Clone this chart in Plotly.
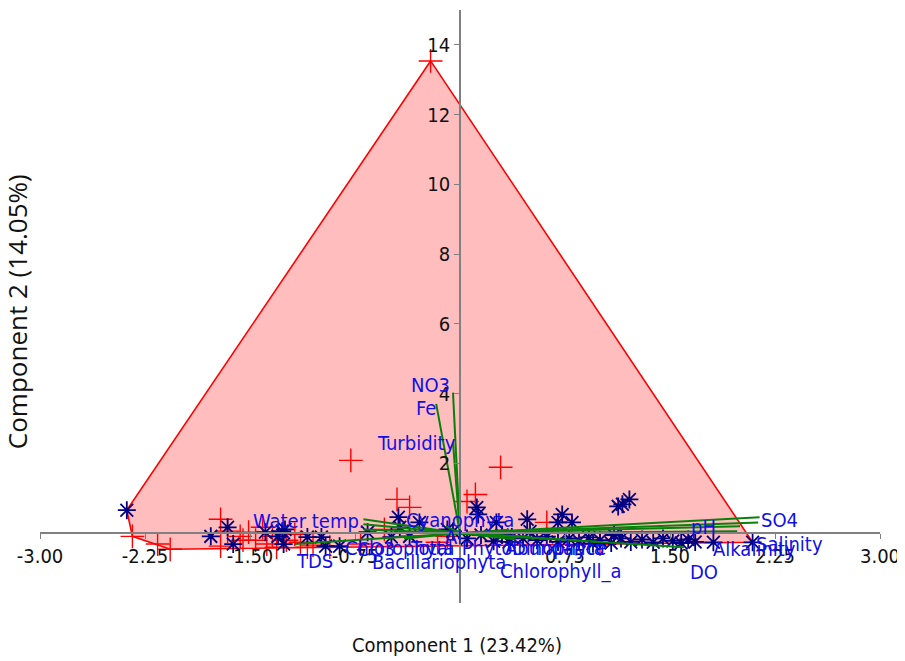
import plotly.graph_objects as go

# ---- data (component scores) ----
red_x = [-0.21, -0.78, 0.29, -0.45, -0.36, 0.05, 0.11, -2.34, -2.07, -2.16, -1.71, -1.71,
         -1.66, -1.57, -1.55, -1.51, -1.46, -1.38, -1.34, -1.31, -1.24, -1.14, -1.09, -1.05,
         -0.93, -0.71, -0.54, -0.09, -0.16, -1.18, -1.41, 0.62, 1.00]
red_y = [13.54, 2.09, 1.89, 0.97, 0.74, 0.91, 1.11, -0.09, -0.46, -0.31, 0.40, -0.37,
         0.06, -0.09, -0.20, 0.03, -0.20, -0.31, -0.09, -0.40, -0.20, -0.26, -0.40, -0.34,
         -0.40, -0.31, 0.11, -0.09, -0.26, -0.03, 0.17, 0.31, -0.31]

blue_x = [-2.38, -1.78, -1.66, -1.62, -1.39, -1.30, -1.27, -1.26, -1.25, -1.09, -0.99, -0.96,
          -0.86, -0.66, -0.44, -0.43, -0.29, -0.09, 0.12, 0.13, 0.24, 0.37, 0.48, 0.73,
          0.80, 0.70, 1.13, 1.16, 1.21, 1.81, 2.09, 0.26, -0.49, -0.36,
          0.45, 0.55, 0.62, 0.70, 0.78, 0.85, 0.92, 1.00, 1.08, 1.15, 1.22, 1.30,
          1.38, 1.45, 1.52, 1.58, 1.63, 1.68, 0.35, 0.30, 1.10, 0.95, 0.50, 0.05, -0.05, 0.15]
blue_y = [0.66, -0.09, 0.17, -0.31, 0.03, -0.09, 0.06, -0.31, 0.11, -0.11, -0.11, -0.37,
          -0.37, 0.03, 0.46, 0.17, 0.31, 0.11, 0.74, 0.54, -0.23, -0.11, 0.40, 0.54,
          0.31, 0.31, 0.77, 0.83, 0.97, -0.26, -0.26, 0.31, -0.11, -0.09,
          -0.15, -0.20, -0.10, -0.25, -0.15, -0.22, -0.12, -0.20, -0.28, -0.15, -0.25, -0.18,
          -0.26, -0.15, -0.22, -0.28, -0.18, -0.25, -0.25, -0.05, -0.05, -0.30, 0.05, -0.15, 0.05, -0.05]

# ---- variable loadings (biplot vectors) ----
var_names = ["NO3", "Fe", "Turbidity", "Water temp.", "TDS", "CO3", "Chlorophyta", "Cyanophyta",
             "Al", "Total_Phyto", "Bacillariophyta", "Abundance", "Dinophyta", "Chlorophyll_a",
             "DO", "pH", "Alkalinity", "Salinity", "SO4"]
var_x = [-0.05, -0.17, -0.05, -0.69, -1.18, -0.69, -0.69, 0.35, -0.10, 0.50, -0.40, 0.45, 0.40,
         1.00, 1.60, 2.00, 1.98, 2.13, 2.14]
var_y = [4.03, 3.71, 2.60, 0.40, -0.31, 0.26, 0.11, 0.10, 0.20, -0.10, -0.15, -0.12, -0.18,
         -0.25, -0.40, 0.20, 0.06, 0.31, 0.46]
label_x = [-0.21, -0.24, -0.31, -1.08, -1.04, -0.60, -0.43, 0.00, -0.05, 0.01, -0.15, 0.68, 0.70,
           0.72, 1.74, 1.74, 2.10, 2.35, 2.28]
label_y = [4.26, 3.60, 2.60, 0.34, -0.80, -0.46, -0.43, 0.37, -0.11, -0.43, -0.83, -0.43, -0.43,
           -1.09, -1.11, 0.17, -0.46, -0.31, 0.37]

x_ticks = [-3.0, -2.25, -1.5, -0.75, 0.75, 1.5, 2.25, 3.0]
y_ticks = [2, 4, 6, 8, 10, 12, 14]
x_range = [-3.0, 3.0]
y_range = [-2.0, 15.0]


def convex_hull(xs, ys):
    pts = sorted(set(zip(xs, ys)))

    def cross(o, a, b):
        return (a[0] - o[0]) * (b[1] - o[1]) - (a[1] - o[1]) * (b[0] - o[0])

    lower, upper = [], []
    for p in pts:
        while len(lower) >= 2 and cross(lower[-2], lower[-1], p) <= 0:
            lower.pop()
        lower.append(p)
    for p in reversed(pts):
        while len(upper) >= 2 and cross(upper[-2], upper[-1], p) <= 0:
            upper.pop()
        upper.append(p)
    hull = lower[:-1] + upper[:-1]
    hull.append(hull[0])
    return [p[0] for p in hull], [p[1] for p in hull]


hx, hy = convex_hull(red_x + blue_x, red_y + blue_y)

fig = go.Figure()
fig.add_trace(go.Scatter(x=hx, y=hy, mode="lines", fill="toself",
                         fillcolor="rgba(255,0,0,0.26)",
                         line=dict(color="#FF0000", width=1.6), hoverinfo="skip"))
fig.add_trace(go.Scatter(x=red_x, y=red_y, mode="markers",
                         marker=dict(symbol="cross-thin", size=17, color="#FF0000",
                                     line=dict(color="#FF0000", width=1.4))))
fig.add_trace(go.Scatter(x=blue_x, y=blue_y, mode="markers",
                         marker=dict(symbol="asterisk-open", size=15, color="#000080",
                                     line=dict(color="#000080", width=1.8))))

vx, vy = [], []
for x1, y1 in zip(var_x, var_y):
    vx += [0, x1, None]
    vy += [0, y1, None]
fig.add_trace(go.Scatter(x=vx, y=vy, mode="lines",
                         line=dict(color="#0A800A", width=2), hoverinfo="skip"))

narrow = "DejaVu Sans Condensed, Liberation Sans Narrow, sans-serif"
label_font = dict(family=narrow, size=20, color="#1010E6")
for name, lx, ly in zip(var_names, label_x, label_y):
    fig.add_annotation(x=lx, y=ly, xref="x", yref="y", text=name, showarrow=False,
                       font=label_font, xanchor="center", yanchor="middle")

tick_font = dict(family=narrow, size=20, color="#111111")

# the page body adds an 8px offset, so the figure is 8px smaller than the window
fig.update_layout(
    width=897, height=653,
    margin=dict(l=32, r=25, t=2, b=58, autoexpand=False),
    paper_bgcolor="white", plot_bgcolor="white",
    showlegend=False,
    xaxis=dict(range=x_range, anchor="free", position=(0 - y_range[0]) / (y_range[1] - y_range[0]),
               automargin=False,
               showgrid=False, zeroline=False, showline=True, linecolor="#808080", linewidth=1.5,
               ticks="outside", ticklen=5, tickcolor="#808080", tickwidth=1.2,
               tickvals=x_ticks, ticktext=["%.2f" % v for v in x_ticks], tickfont=tick_font),
    yaxis=dict(range=y_range, anchor="free", position=(0 - x_range[0]) / (x_range[1] - x_range[0]),
               automargin=False,
               showgrid=False, zeroline=False, showline=True, linecolor="#808080", linewidth=1.5,
               ticks="outside", ticklen=5, tickcolor="#808080", tickwidth=1.2,
               tickvals=y_ticks, ticktext=[str(v) for v in y_ticks], tickfont=tick_font),
)

fig.add_annotation(x=0.496, y=-0.071, xref="paper", yref="paper", text="Component 1 (23.42%)",
                   showarrow=False, xanchor="center", yanchor="middle",
                   font=dict(family=narrow, size=20, color="#111111"))
fig.add_annotation(x=-0.027, y=0.491, xref="paper", yref="paper", text="Component 2 (14.05%)",
                   showarrow=False, xanchor="center", yanchor="middle", textangle=-90,
                   font=dict(family="Open Sans, sans-serif", size=26, color="#111111"))

fig.write_html("out.html")
